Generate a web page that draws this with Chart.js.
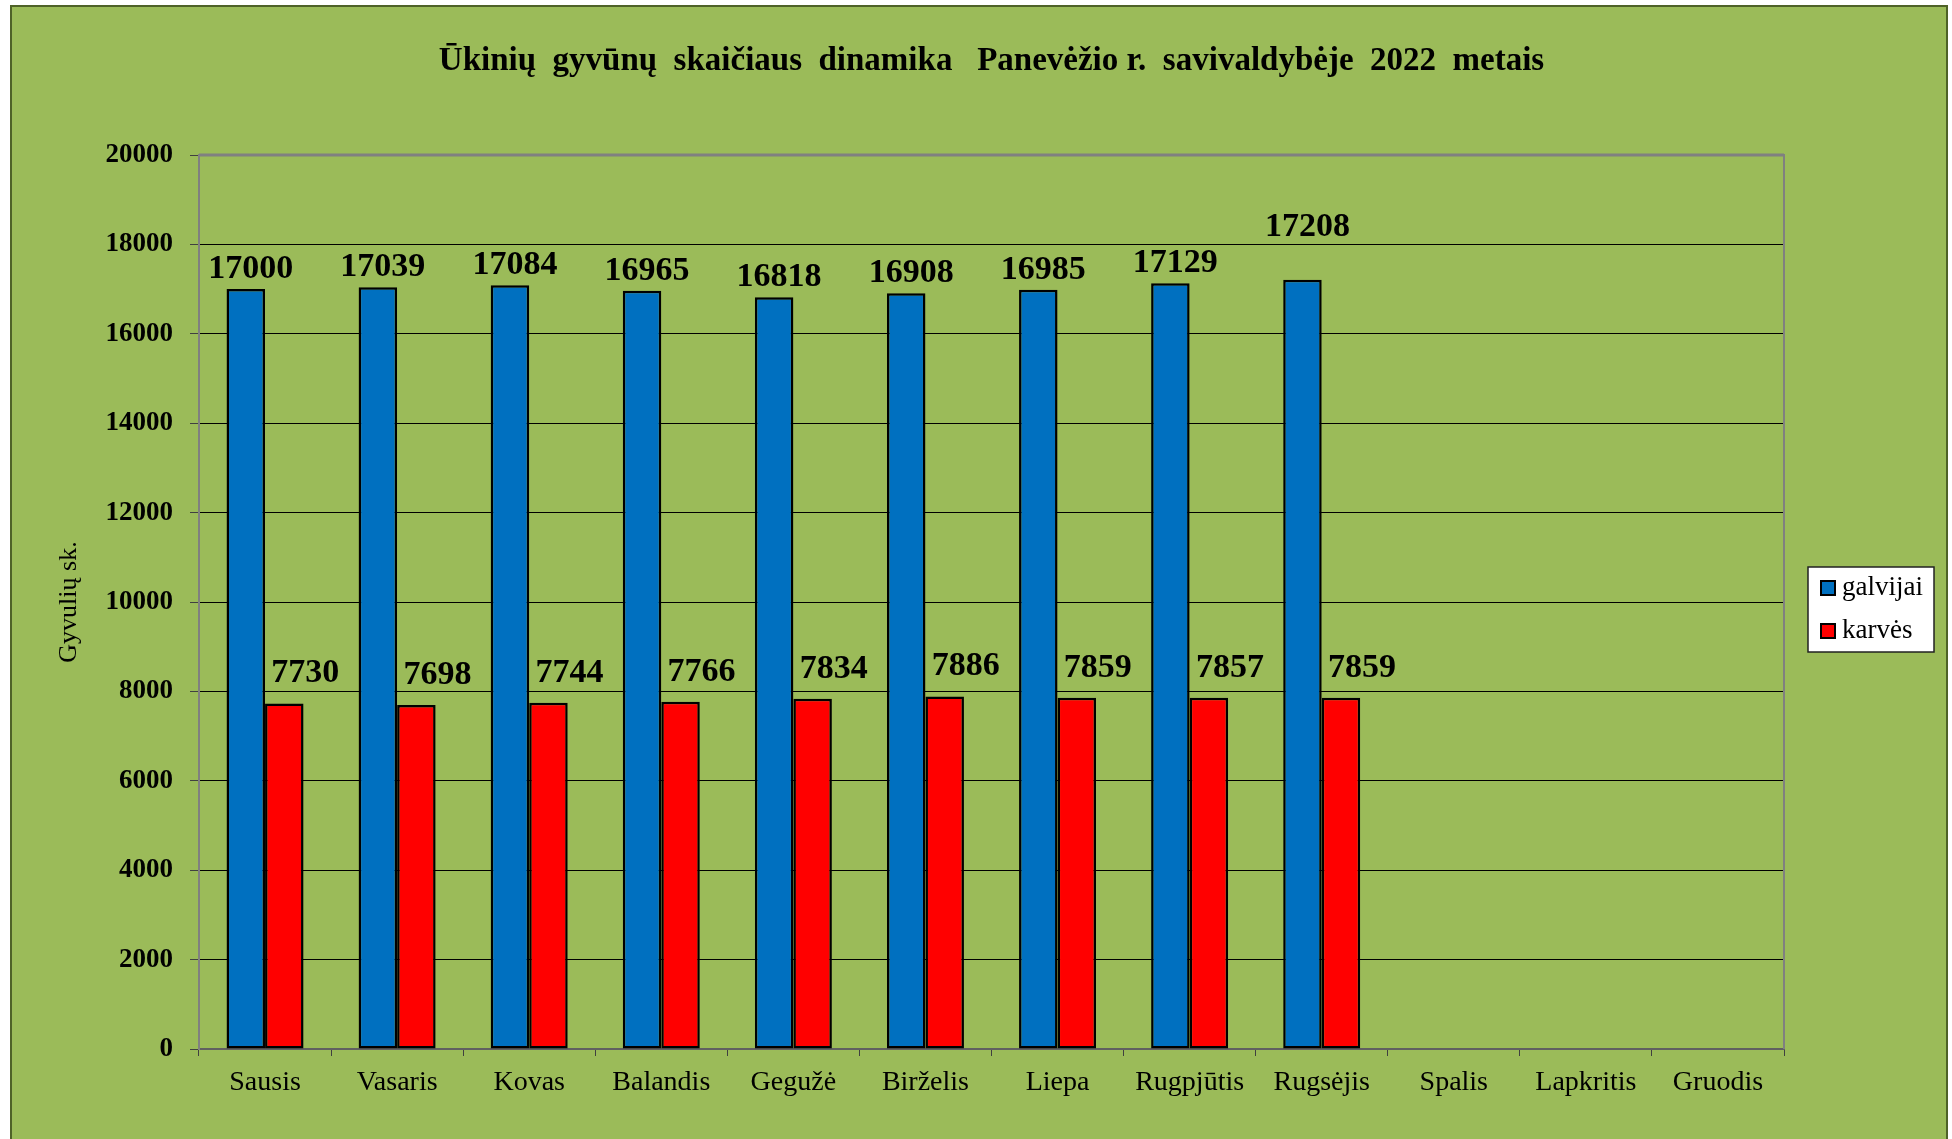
<!DOCTYPE html>
<html><head><meta charset="utf-8">
<script src="https://cdn.jsdelivr.net/npm/chart.js@4.4.0/dist/chart.umd.min.js"></script>
<style>
html,body{margin:0;padding:0;background:#fff;width:1952px;height:1139px;overflow:hidden;}
#panel{position:absolute;left:10px;top:5px;width:1938px;height:1150px;background:#9BBB59;border:2px solid #4F6228;box-sizing:border-box;}
#c{position:absolute;left:0;top:0;}
</style></head><body>
<div id="panel"></div>
<canvas id="c" width="1952" height="1139"></canvas>
<script>
const titleText = 'Ūkinių  gyvūnų  skaičiaus  dinamika   Panevėžio r.  savivaldybėje  2022  metais';
const yAxisTitle = 'Gyvulių sk.';
const months = ['Sausis','Vasaris','Kovas','Balandis','Gegužė','Birželis','Liepa','Rugpjūtis','Rugsėjis','Spalis','Lapkritis','Gruodis'];
const galvijai = [17000, 17039, 17084, 16965, 16818, 16908, 16985, 17129, 17208];
const karves = [7730, 7698, 7744, 7766, 7834, 7886, 7859, 7857, 7859];
const seriesNames = ['galvijai', 'karvės'];
const seriesColors = ['#0070C0', '#FF0000'];
const yTicks = [0, 2000, 4000, 6000, 8000, 10000, 12000, 14000, 16000, 18000, 20000];

const SERIF = '"Liberation Serif", "Times New Roman", serif';

const plotFrame = {
  id: 'plotFrame',
  beforeDatasetsDraw(chart) {
    const {ctx, chartArea: a} = chart;
    ctx.save();
    ctx.strokeStyle = '#808080';
    ctx.lineWidth = 2;
    ctx.beginPath();
    ctx.moveTo(a.left, a.bottom); ctx.lineTo(a.left, a.top);
    ctx.lineTo(a.right, a.top); ctx.lineTo(a.right, a.bottom);
    ctx.stroke();
    ctx.lineWidth = 3;
    ctx.beginPath();
    ctx.moveTo(a.left, a.top); ctx.lineTo(a.right, a.top);
    ctx.stroke();
    ctx.restore();
  }
};

const valueLabels = {
  id: 'valueLabels',
  afterDatasetsDraw(chart) {
    const {ctx} = chart;
    ctx.save();
    ctx.font = 'bold 34px ' + SERIF;
    ctx.fillStyle = '#000';
    ctx.textAlign = 'center';
    ctx.textBaseline = 'alphabetic';
    chart.data.datasets.forEach((ds, di) => {
      const meta = chart.getDatasetMeta(di);
      meta.data.forEach((bar, i) => {
        const v = ds.data[i];
        if (v == null) return;
        let dx, gap;
        if (di === 0) { dx = 5; gap = (i === 8) ? 44 : 11; }
        else { dx = 21; gap = 21; }
        ctx.fillText(String(v), bar.x + dx, bar.y - gap);
      });
    });
    ctx.restore();
  }
};

const boxLegend = {
  id: 'boxLegend',
  afterDraw(chart) {
    const {ctx} = chart;
    const x = 1808, y = 567, w = 126, h = 85;
    ctx.save();
    ctx.fillStyle = '#fff';
    ctx.fillRect(x, y, w, h);
    ctx.strokeStyle = '#222';
    ctx.lineWidth = 1.5;
    ctx.strokeRect(x, y, w, h);
    ctx.font = '27px ' + SERIF;
    ctx.textBaseline = 'middle';
    ctx.textAlign = 'left';
    chart.data.datasets.forEach((ds, i) => {
      const cy = 588 + i * 43;
      ctx.fillStyle = ds.backgroundColor;
      ctx.fillRect(1821, cy - 7, 14, 14);
      ctx.strokeStyle = '#000';
      ctx.lineWidth = 2;
      ctx.strokeRect(1821, cy - 7, 14, 14);
      ctx.fillStyle = '#000';
      ctx.fillText(ds.label, 1842, cy);
    });
    ctx.restore();
  }
};

new Chart(document.getElementById('c'), {
  type: 'bar',
  data: {
    labels: months,
    datasets: [
      { label: seriesNames[0], data: galvijai, backgroundColor: seriesColors[0], borderColor: '#000', borderWidth: 2.5, borderSkipped: false },
      { label: seriesNames[1], data: karves, backgroundColor: seriesColors[1], borderColor: '#000', borderWidth: 2.5, borderSkipped: false }
    ]
  },
  options: {
    responsive: false,
    animation: false,
    devicePixelRatio: 1,
    layout: { padding: { left: 0, right: 168, top: 0, bottom: 0 } },
    datasets: { bar: { categoryPercentage: 0.583, barPercentage: 1.0 } },
    plugins: {
      legend: { display: false },
      tooltip: { enabled: false },
      title: {
        display: true,
        text: titleText,
        fullSize: false,
        color: '#000',
        font: { family: SERIF, size: 33, weight: 'bold', lineHeight: 1.2 },
        padding: { top: 42, bottom: 73.4 }
      }
    },
    scales: {
      x: {
        grid: { display: true, drawOnChartArea: false, drawTicks: true, tickLength: 7, color: '#404040', offset: true },
        border: { display: true, color: '#606060', width: 2 },
        ticks: { color: '#000', padding: 10, font: { family: SERIF, size: 28, lineHeight: 1.2 }, maxRotation: 0, autoSkip: false },
        afterFit(s) { s.height = 90; }
      },
      y: {
        min: 0, max: 20000,
        afterBuildTicks(s) { s.ticks = yTicks.map(v => ({ value: v })); },
        grid: { color: '#000', lineWidth: 1, drawTicks: true, tickLength: 9, tickColor: '#404040' },
        border: { display: true, color: '#808080', width: 2 },
        ticks: { color: '#000', padding: 17, font: { family: SERIF, size: 27, weight: 'bold' }, callback: v => String(v) },
        title: { display: true, text: yAxisTitle, color: '#000', font: { family: SERIF, size: 26, lineHeight: 1.2 }, padding: { top: 54, bottom: 0 } },
        afterFit(s) { s.width = 199; }
      }
    }
  },
  plugins: [plotFrame, valueLabels, boxLegend]
});
</script>
</body></html>
